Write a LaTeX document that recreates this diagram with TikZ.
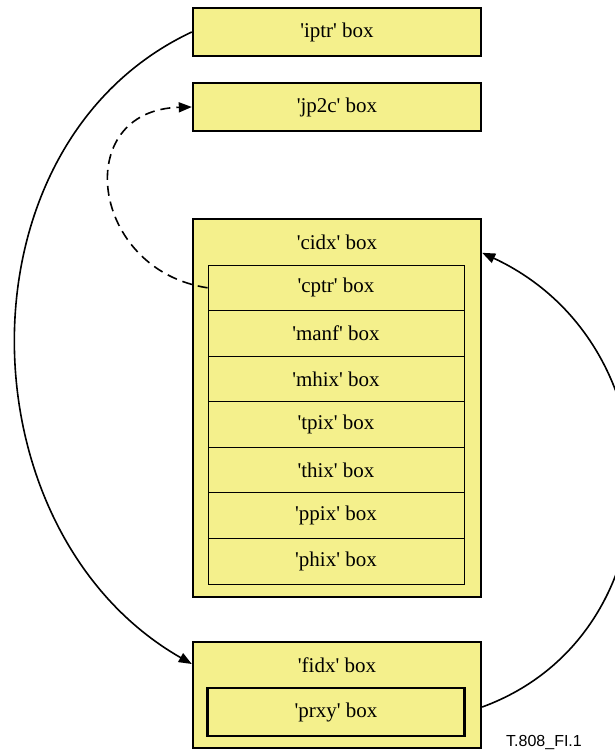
\documentclass[tikz,border=0pt]{standalone}
\usepackage{fontspec}
\setmainfont{Liberation Serif}[Ligatures=TeXOff]
\newfontfamily\figfont{Liberation Sans}
\usepackage{tikz}
\usetikzlibrary{arrows.meta}
\usepackage{xcolor}
\definecolor{boxyellow}{RGB}{244,240,140}

\begin{document}
\begin{tikzpicture}[
    x=1pt, y=-1pt,
    outerbox/.style={draw, line width=2.4pt, fill=boxyellow, minimum width=288pt, inner sep=0pt, font=\fontsize{21}{24}\selectfont},
    rowbox/.style={draw, line width=0.9pt, fill=boxyellow, minimum width=256pt, minimum height=45.6pt, inner sep=0pt, font=\fontsize{21}{24}\selectfont},
    label/.style={font=\fontsize{21}{24}\selectfont},
    arrow/.style={-{Triangle[length=13pt,width=10pt]}, line width=1.6pt}
]
\useasboundingbox (0,0) rectangle (615,753);

% Top boxes
\node[outerbox, minimum height=48pt] (iptr) at (337,32) {'iptr' box};
\node[outerbox, minimum height=48pt] (jp2c) at (337,107) {'jp2c' box};

% Codestream index box with its sub-boxes
\node[outerbox, minimum height=378pt] (cidx) at (337,408) {};
\node[label] (cidxname) at (337,242) {'cidx' box};
\node[rowbox] (cptr) at (336,287.8) {'cptr' box};
\node[rowbox] (manf) at (336,333.4) {'manf' box};
\node[rowbox] (mhix) at (336,378.9) {'mhix' box};
\node[rowbox] (tpix) at (336,424.5) {'tpix' box};
\node[rowbox] (thix) at (336,470.1) {'thix' box};
\node[rowbox] (ppix) at (336,515.7) {'ppix' box};
\node[rowbox] (phix) at (336,561.2) {'phix' box};

% File index box
\node[outerbox, minimum height=106pt] (fidx) at (337,695) {};
\node[label] (fidxname) at (337,665) {'fidx' box};
\node[rowbox, line width=2.4pt, minimum width=257pt, minimum height=48pt] (prxy) at (336,712) {'prxy' box};

% Pointers
\draw[arrow] (iptr.west) .. controls (-47,144) and (-39,532) .. ([yshift=31pt]fidx.west);
\draw[arrow, dash pattern=on 10pt off 6pt] (cptr.west) .. controls (90,270) and (70,110) .. (jp2c.west);
\draw[arrow] ([yshift=-12pt]fidx.east) .. controls (679,635) and (682,346) .. ([yshift=-35pt]cidx.north east);

% Figure tag
\node[font=\figfont\fontsize{16}{18}\selectfont] (tag) at (544,742) {T.808\_FI.1};

\end{tikzpicture}
\end{document}
